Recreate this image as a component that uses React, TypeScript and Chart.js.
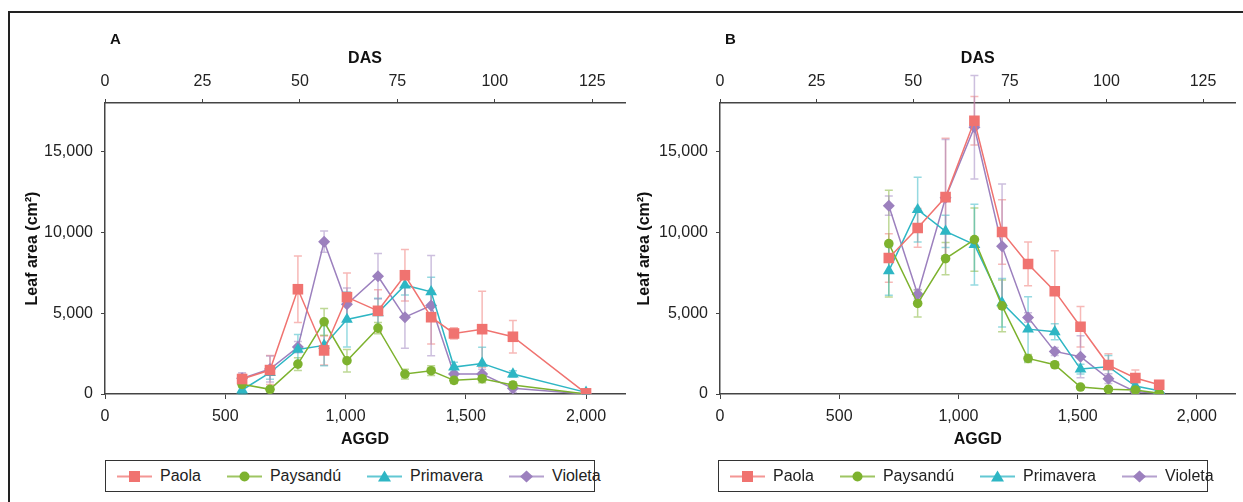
import React, { useEffect, useRef } from "react";
import { Chart, registerables } from "chart.js";

Chart.register(...registerables);

const FONT = "'Liberation Sans', Arial, sans-serif";

// ---------- data ----------
const seriesNames = ["Paola", "Paysandú", "Primavera", "Violeta"];
const seriesColors = ["#F07370", "#7DB22E", "#2EB6C4", "#9C80BE"];
const errorColors = [
  "rgba(240,115,112,0.5)",
  "rgba(125,178,46,0.5)",
  "rgba(46,182,196,0.5)",
  "rgba(156,128,190,0.5)",
];
const markerStyles = ["rect", "circle", "triangle", "rectRot"];
const markerRadius = [7.5, 4.8, 6.8, 6];

const aggdTicks = [0, 500, 1000, 1500, 2000];
const dasTicks = [0, 25, 50, 75, 100, 125];
const leafAreaTicks = [0, 5000, 10000, 15000];
const aggdMax = 2162;
const dasMax = 133.4;
const leafAreaMax = 18000;

// Panel A
const aggdA = [570, 686, 802, 911, 1006, 1135, 1247, 1356, 1451, 1568, 1696, 2000];
const paolaA = [926, 1480, 6480, 2695, 5990, 5145, 7345, 4750, 3745, 4010, 3540, 40];
const paysanduA = [597, 288, 1850, 4465, 2060, 4075, 1235, 1440, 845, 947, 555, 0];
const primaveraA = [247, 1316, 2757, 3005, 4610, 5020, 6730, 6317, 1667, 1893, 1235, 100];
const violetaA = [967, 1543, 2900, 9425, 5555, 7284, 4753, 5473, 1235, 1235, 350, 0];
const paolaErrA = [300, 900, 2050, 900, 1500, 1300, 1600, 1650, 350, 2350, 1000, 100];
const paysanduErrA = [200, 150, 400, 830, 700, 350, 300, 300, 200, 250, 200, 50];
const primaveraErrA = [250, 400, 930, 1250, 1700, 900, 600, 900, 300, 1000, 200, 100];
const violetaErrA = [350, 800, 350, 650, 1000, 1400, 1930, 3100, 300, 300, 250, 50];

// Panel B
const aggdB = [708, 829, 946, 1067, 1183, 1292, 1404, 1512, 1629, 1742, 1842];
const paolaB = [8415, 10270, 12180, 16900, 10020, 8045, 6360, 4156, 1790, 988, 576];
const paysanduB = [9300, 5600, 8375, 9550, 5450, 2200, 1810, 430, 288, 247, 40];
const primaveraB = [7615, 11400, 10060, 9240, 5640, 4012, 3848, 1543, 1687, 494, 206];
const violetaB = [11650, 6170, 12140, 16500, 9135, 4733, 2633, 2305, 946, 144, 60];
const paolaErrB = [1500, 1200, 3640, 1500, 2000, 1350, 2500, 1250, 700, 500, 250];
const paysanduErrB = [3300, 830, 1000, 1950, 1600, 250, 150, 100, 100, 50, 30];
const primaveraErrB = [1500, 2000, 1000, 2500, 1500, 2000, 500, 300, 700, 200, 100];
const violetaErrB = [600, 300, 3600, 3200, 3850, 300, 250, 1300, 300, 100, 50];

// ---------- plugins ----------
const errorBarPlugin = {
  id: "errorBars",
  beforeDatasetsDraw(chart: any) {
    const ctx = chart.ctx;
    const xs = chart.scales.x;
    const ys = chart.scales.y;
    chart.data.datasets.forEach((ds: any) => {
      const errs = ds.errors;
      if (!errs) return;
      ctx.save();
      ctx.strokeStyle = ds.errorColor;
      ctx.lineWidth = 1.5;
      ds.data.forEach((p: any, j: number) => {
        const e = errs[j];
        const px = xs.getPixelForValue(p.x);
        const top = ys.getPixelForValue(p.y + e);
        const bot = ys.getPixelForValue(Math.max(0, p.y - e));
        ctx.beginPath();
        ctx.moveTo(px, top);
        ctx.lineTo(px, bot);
        ctx.moveTo(px - 4, top);
        ctx.lineTo(px + 4, top);
        ctx.moveTo(px - 4, bot);
        ctx.lineTo(px + 4, bot);
        ctx.stroke();
      });
      ctx.restore();
    });
  },
};

const panelLetterPlugin = {
  id: "panelLetter",
  afterDraw(chart: any, _args: any, opts: any) {
    if (!opts || !opts.text) return;
    const ctx = chart.ctx;
    ctx.save();
    ctx.font = `bold 15px ${FONT}`;
    ctx.fillStyle = "#111";
    ctx.textBaseline = "middle";
    ctx.textAlign = "left";
    ctx.fillText(opts.text, opts.x, opts.y);
    ctx.restore();
  },
};

const fmt = (v: any) => Number(v).toLocaleString("en-US");

type PanelProps = {
  letter: string;
  xs: number[];
  ys: number[][];
  errs: number[][];
  left: number;
  width: number;
  yAxisWidth: number;
  yTitlePad: number;
  padRight: number;
  letterX: number;
};

const HEIGHT = 455;

function Panel(props: PanelProps) {
  const ref = useRef<HTMLCanvasElement | null>(null);
  useEffect(() => {
    if (!ref.current) return;
    const tickFont = { family: FONT, size: 16 };
    const titleFont = { family: FONT, size: 16, weight: "bold" as const };
    const datasets = props.ys.map((vals, i) => ({
      label: seriesNames[i],
      data: vals.map((v, j) => ({ x: props.xs[j], y: v })),
      errors: props.errs[i],
      errorColor: errorColors[i],
      borderColor: seriesColors[i],
      backgroundColor: seriesColors[i],
      borderWidth: 1.5,
      pointStyle: markerStyles[i],
      pointRadius: markerRadius[i],
      pointBorderWidth: 0,
      pointBackgroundColor: seriesColors[i],
      tension: 0,
    }));
    const chart = new Chart(ref.current, {
      type: "line",
      data: { datasets } as any,
      plugins: [errorBarPlugin, panelLetterPlugin],
      options: {
        responsive: false,
        animation: false,
        layout: { padding: { left: 0, right: props.padRight, top: 0, bottom: 0 } },
        plugins: {
          legend: { display: false },
          tooltip: { enabled: false },
          panelLetter: { text: props.letter, x: props.letterX, y: 40 },
        } as any,
        scales: {
          x: {
            type: "linear",
            position: "bottom",
            min: 0,
            max: aggdMax,
            afterBuildTicks(s: any) {
              s.ticks = aggdTicks.map((v) => ({ value: v }));
            },
            ticks: { padding: 8, color: "#222", font: tickFont, maxRotation: 0, autoSkip: false, callback: fmt },
            grid: { drawOnChartArea: false, tickLength: 5, color: "#444" },
            border: { color: "#444", width: 1.5 },
            title: { display: true, text: "AGGD", color: "#111", font: titleFont, padding: { top: 0, bottom: 6 } },
            afterFit(s: any) {
              s.height = HEIGHT - 394;
            },
          },
          x2: {
            type: "linear",
            position: "top",
            min: 0,
            max: dasMax,
            afterBuildTicks(s: any) {
              s.ticks = dasTicks.map((v) => ({ value: v }));
            },
            ticks: { padding: 8, color: "#222", font: tickFont, maxRotation: 0, autoSkip: false, callback: fmt },
            grid: { drawOnChartArea: false, tickLength: 4, color: "#444" },
            border: { color: "#444", width: 1.5 },
            title: { display: true, text: "DAS", color: "#111", font: titleFont, padding: { top: 49, bottom: 0 } },
            afterFit(s: any) {
              s.height = 103;
            },
          },
          y: {
            type: "linear",
            min: 0,
            max: leafAreaMax,
            afterBuildTicks(s: any) {
              s.ticks = leafAreaTicks.map((v) => ({ value: v }));
            },
            ticks: { padding: 8, color: "#222", font: tickFont, autoSkip: false, callback: fmt },
            grid: { drawOnChartArea: false, tickLength: 4, color: "#444" },
            border: { color: "#444", width: 1.5 },
            title: { display: true, text: "Leaf area (cm²)", color: "#111", font: titleFont, padding: { top: props.yTitlePad, bottom: 0 } },
            afterFit(s: any) {
              s.width = props.yAxisWidth;
            },
          },
        } as any,
      },
    });
    return () => chart.destroy();
  }, []);
  return (
    <canvas
      ref={ref}
      width={props.width}
      height={HEIGHT}
      style={{ position: "absolute", left: props.left, top: 0, width: props.width, height: HEIGHT }}
    />
  );
}

function LegendSample({ i }: { i: number }) {
  const c = seriesColors[i];
  let marker: React.ReactNode = null;
  if (i === 0) marker = <rect x={12} y={4} width={11} height={11} fill={c} />;
  else if (i === 1) marker = <circle cx={17.5} cy={9.5} r={5} fill={c} />;
  else if (i === 2) marker = <polygon points="17.5,3.5 24,14.5 11,14.5" fill={c} />;
  else marker = <polygon points="17.5,3.5 24,9.5 17.5,15.5 11,9.5" fill={c} />;
  return (
    <svg width={35} height={19} style={{ display: "block", marginRight: 8 }}>
      <line x1={0} y1={9.5} x2={35} y2={9.5} stroke={c} strokeOpacity={0.75} strokeWidth={2} />
      {marker}
    </svg>
  );
}

function Legend({ left, width }: { left: number; width: number }) {
  return (
    <div
      style={{
        position: "absolute",
        left,
        top: 460,
        width,
        height: 32,
        boxSizing: "border-box",
        border: "1.5px solid #333",
        display: "flex",
        alignItems: "center",
        paddingLeft: 11,
        gap: 26,
        fontFamily: FONT,
        fontSize: 16,
        color: "#222",
      }}
    >
      {seriesNames.map((n, i) => (
        <div key={n} style={{ display: "flex", alignItems: "center" }}>
          <LegendSample i={i} />
          <span>{n}</span>
        </div>
      ))}
    </div>
  );
}

export default function App() {
  return (
    <div style={{ position: "absolute", left: 0, top: 0, width: 1243, height: 502, overflow: "hidden", background: "#fff" }}>
      <div
        style={{
          position: "absolute",
          left: 8,
          top: 11,
          right: -10,
          bottom: -10,
          borderTop: "2px solid #222",
          borderLeft: "2px solid #222",
        }}
      />
      <Panel
        letter="A"
        xs={aggdA}
        ys={[paolaA, paysanduA, primaveraA, violetaA]}
        errs={[paolaErrA, paysanduErrA, primaveraErrA, violetaErrA]}
        left={0}
        width={640}
        yAxisWidth={105}
        yTitlePad={23}
        padRight={15}
        letterX={110}
      />
      <Panel
        letter="B"
        xs={aggdB}
        ys={[paolaB, paysanduB, primaveraB, violetaB]}
        errs={[paolaErrB, paysanduErrB, primaveraErrB, violetaErrB]}
        left={630}
        width={613}
        yAxisWidth={90}
        yTitlePad={5}
        padRight={5}
        letterX={95}
      />
      <Legend left={105} width={490} />
      <Legend left={718} width={490} />
    </div>
  );
}
